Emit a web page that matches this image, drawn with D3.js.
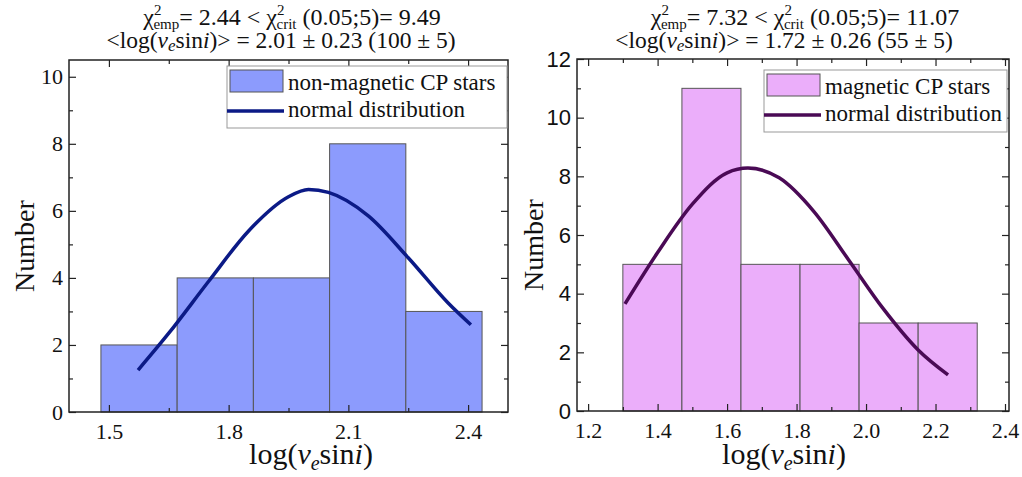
<!DOCTYPE html>
<html>
<head>
<meta charset="utf-8">
<script src="https://cdn.jsdelivr.net/npm/d3@7"></script>
<style>
  body { margin: 0; background: #fff; }
</style>
</head>
<body>
<div id="chart"></div>
<script>
'use strict';

// histogram bins (log v sin i edges) and counts
var nonMagEdges = [1.48, 1.671, 1.862, 2.053, 2.244, 2.435];
var nonMagCounts = [2, 4, 4, 8, 3];
var magEdges = [1.30, 1.47, 1.64, 1.81, 1.98, 2.15, 2.32];
var magCounts = [5, 11, 5, 5, 3, 3];

// normal distribution curves
var nonMagCurveX = [1.573, 1.65, 1.75, 1.85, 1.95, 2.00, 2.05, 2.15, 2.25, 2.35, 2.407];
var nonMagCurveY = [1.25, 2.35, 3.90, 5.40, 6.42, 6.64, 6.55, 5.85, 4.60, 3.25, 2.60];
var magCurveX = [1.306, 1.40, 1.50, 1.60, 1.66, 1.75, 1.85, 1.95, 2.05, 2.15, 2.236];
var magCurveY = [3.65, 5.40, 7.05, 8.12, 8.28, 7.95, 6.80, 5.15, 3.48, 2.08, 1.23];

// tick labels
var nonMagXTicks = [1.5, 1.8, 2.1, 2.4];
var nonMagXMinor = [1.65, 1.95, 2.25];
var nonMagYTicks = [0, 2, 4, 6, 8, 10];
var magXTicks = [1.2, 1.4, 1.6, 1.8, 2.0, 2.2, 2.4];
var magXMinor = [1.3, 1.5, 1.7, 1.9, 2.1, 2.3];
var magYTicks = [0, 2, 4, 6, 8, 10, 12];

var SERIF = "'Liberation Serif', 'Times New Roman', serif";
var SANS = "'Liberation Sans', Arial, sans-serif";

var svg = d3.select("#chart").append("svg")
  .attr("width", 1022).attr("height", 477);

function txt(sel, size) {
  return sel.style("font-family", SERIF).style("font-size", size + "px").attr("fill", "#111");
}

function drawPanel(p) {
  var x = d3.scaleLinear().domain(p.xDomain).range([p.left, p.right]);
  var y = d3.scaleLinear().domain(p.yDomain).range([p.bottom, p.top]);
  var g = svg.append("g");

  // bars
  var bins = p.counts.map(function (c, i) { return {x0: p.edges[i], x1: p.edges[i + 1], n: c}; });
  g.selectAll(".bar").data(bins).enter().append("rect")
    .attr("class", "bar")
    .attr("x", function (d) { return x(d.x0); })
    .attr("width", function (d) { return x(d.x1) - x(d.x0); })
    .attr("y", function (d) { return y(d.n); })
    .attr("height", function (d) { return y(0) - y(d.n); })
    .attr("fill", p.barColor)
    .attr("stroke", "#555").attr("stroke-width", 1);

  // curve
  var pts = p.curveX.map(function (v, i) { return [v, p.curveY[i]]; });
  g.append("path").datum(pts)
    .attr("d", d3.line().x(function (d) { return x(d[0]); }).y(function (d) { return y(d[1]); }).curve(d3.curveMonotoneX))
    .attr("fill", "none").attr("stroke", p.lineColor).attr("stroke-width", 3.5);

  // axes, ticks inward on all sides
  var yMinor = d3.range(p.yDomain[0] + 1, p.yDomain[1], 2);
  var bottom = g.append("g").attr("transform", "translate(0," + p.bottom + ")")
    .call(d3.axisBottom(x).tickValues(p.xTicks).tickSize(-7).tickPadding(11).tickFormat(d3.format(p.xFmt)));
  bottom.append("g").call(d3.axisBottom(x).tickValues(p.xMinor).tickSize(-4).tickFormat(""));
  var top = g.append("g").attr("transform", "translate(0," + p.top + ")")
    .call(d3.axisTop(x).tickValues(p.xTicks).tickSize(-7).tickFormat(""));
  top.append("g").call(d3.axisTop(x).tickValues(p.xMinor).tickSize(-4).tickFormat(""));
  var leftAx = g.append("g").attr("transform", "translate(" + p.left + ",0)")
    .call(d3.axisLeft(y).tickValues(p.yTicks).tickSize(-7).tickPadding(6).tickFormat(d3.format("d")));
  leftAx.append("g").call(d3.axisLeft(y).tickValues(yMinor).tickSize(-4).tickFormat(""));
  var rightAx = g.append("g").attr("transform", "translate(" + p.right + ",0)")
    .call(d3.axisRight(y).tickValues(p.yTicks).tickSize(-7).tickFormat(""));
  rightAx.append("g").call(d3.axisRight(y).tickValues(yMinor).tickSize(-4).tickFormat(""));

  g.selectAll(".domain").attr("stroke", "none");
  g.selectAll(".tick line").attr("stroke", "#222").attr("stroke-width", 1.2);
  txt(bottom.selectAll("text"), 22);
  txt(leftAx.selectAll("text"), 22).style("font-family", p.yFont);

  // frame
  g.append("rect").attr("x", p.left).attr("y", p.top)
    .attr("width", p.right - p.left).attr("height", p.bottom - p.top)
    .attr("fill", "none").attr("stroke", "#222").attr("stroke-width", 1.5);

  // axis titles
  txt(g.append("text"), 28)
    .attr("transform", "translate(" + p.yTitleX + "," + ((p.top + p.bottom) / 2 + 10) + ") rotate(-90)")
    .attr("text-anchor", "middle").text("Number");
  var xt = txt(g.append("text"), 30).attr("x", p.xTitleX).attr("y", 464)
    .attr("text-anchor", "middle");
  xt.append("tspan").text("log(");
  xt.append("tspan").style("font-style", "italic").text("v");
  xt.append("tspan").style("font-style", "italic").style("font-size", "20px").attr("dy", 6).text("e");
  xt.append("tspan").attr("dy", -6).text("sin");
  xt.append("tspan").style("font-style", "italic").text("i");
  xt.append("tspan").text(")");

  // title lines
  var t1 = txt(g.append("text"), 24).attr("x", p.t1X).attr("y", 25).attr("text-anchor", "middle");
  t1.append("tspan").text("\u03C7");
  t1.append("tspan").style("font-size", "15px").attr("dy", -10).text("2");
  t1.append("tspan").style("font-size", "15px").attr("dx", -8).attr("dy", 14).text("emp");
  t1.append("tspan").attr("dy", -4).text("= " + p.chiEmp + " < \u03C7");
  t1.append("tspan").style("font-size", "15px").attr("dy", -10).text("2");
  t1.append("tspan").style("font-size", "15px").attr("dx", -8).attr("dy", 14).text("crit");
  t1.append("tspan").attr("dy", -4).text(" (0.05;5)= " + p.chiCrit);

  var t2 = txt(g.append("text"), 23.5).attr("x", p.t2X).attr("y", 48).attr("text-anchor", "middle");
  t2.append("tspan").text("<log(");
  t2.append("tspan").style("font-style", "italic").text("v");
  t2.append("tspan").style("font-style", "italic").style("font-size", "17px").attr("dy", 3).text("e");
  t2.append("tspan").attr("dy", -3).text("sin");
  t2.append("tspan").style("font-style", "italic").text("i");
  t2.append("tspan").text(")> = " + p.meanText);

  // legend
  var L = p.legend;
  g.append("rect").attr("x", L.x).attr("y", L.y).attr("width", L.w).attr("height", 62)
    .attr("fill", "#fff").attr("stroke", "#999").attr("stroke-width", 1);
  g.append("rect").attr("x", L.x + 3).attr("y", L.y + 4).attr("width", 53).attr("height", 22)
    .attr("fill", p.barColor).attr("stroke", "#555");
  g.append("line").attr("x1", L.x).attr("x2", L.x + 57).attr("y1", L.y + 45).attr("y2", L.y + 45)
    .attr("stroke", p.lineColor).attr("stroke-width", 3.5);
  txt(g.append("text"), 23).attr("x", L.x + 61).attr("y", L.y + 24).text(p.label);
  txt(g.append("text"), 23).attr("x", L.x + 61).attr("y", L.y + 51).text("normal distribution");
}

drawPanel({
  left: 69, right: 508, top: 60, bottom: 412,
  xDomain: [1.4, 2.5], yDomain: [0, 10.5],
  xTicks: nonMagXTicks, xMinor: nonMagXMinor, yTicks: nonMagYTicks, xFmt: ".1f",
  edges: nonMagEdges, counts: nonMagCounts,
  curveX: nonMagCurveX, curveY: nonMagCurveY,
  barColor: "#8c9bfd", lineColor: "#0b1a86",
  yFont: SERIF, yTitleX: 34, xTitleX: 311, t1X: 292, t2X: 281,
  chiEmp: "2.44", chiCrit: "9.49", meanText: "2.01 \u00B1 0.23 (100 \u00B1 5)",
  label: "non-magnetic CP stars",
  legend: {x: 227, y: 66, w: 280}
});

drawPanel({
  left: 577, right: 1009, top: 59, bottom: 411,
  xDomain: [1.168, 2.4115], yDomain: [0, 12],
  xTicks: magXTicks, xMinor: magXMinor, yTicks: magYTicks, xFmt: ".1f",
  edges: magEdges, counts: magCounts,
  curveX: magCurveX, curveY: magCurveY,
  barColor: "#ebaefa", lineColor: "#4a0a55",
  yFont: SANS, yTitleX: 543, xTitleX: 784, t1X: 805, t2X: 784,
  chiEmp: "7.32", chiCrit: "11.07", meanText: "1.72 \u00B1 0.26 (55 \u00B1 5)",
  label: "magnetic CP stars",
  legend: {x: 764, y: 70, w: 243}
});
</script>
</body>
</html>
